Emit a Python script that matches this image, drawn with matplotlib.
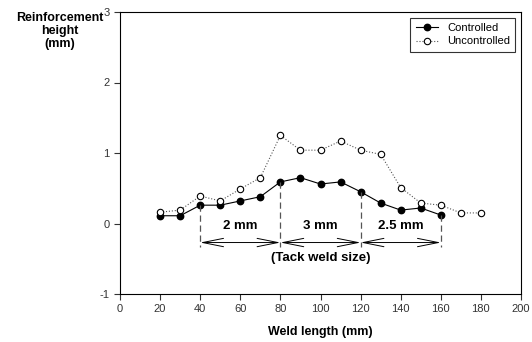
import matplotlib
matplotlib.use('Agg')
import matplotlib.pyplot as plt

plt.rcParams['font.family'] = ['Liberation Sans', 'DejaVu Sans']
plt.rcParams['axes.unicode_minus'] = False

x_ctrl = [20, 30, 40, 50, 60, 70, 80, 90, 100, 110, 120, 130, 140, 150, 160]
y_ctrl = [0.11, 0.11, 0.26, 0.26, 0.32, 0.38, 0.59, 0.65, 0.56, 0.59, 0.45, 0.29, 0.19, 0.22, 0.12]

x_unc = [20, 30, 40, 50, 60, 70, 80, 90, 100, 110, 120, 130, 140, 150, 160, 170, 180]
y_unc = [0.16, 0.19, 0.39, 0.32, 0.49, 0.65, 1.25, 1.04, 1.04, 1.17, 1.04, 0.98, 0.51, 0.29, 0.26, 0.15, 0.15]

tack_x = [40, 80, 120, 160]
tack_labels = ['2 mm', '3 mm', '2.5 mm']

fig = plt.figure(figsize=(5.32, 3.42), dpi=100)
ax = fig.add_axes([120 / 532, 1 - 294 / 342, 401 / 532, 282 / 342])

ax.plot(x_ctrl, y_ctrl, '-', color='black', lw=0.8, marker='o', ms=4.6,
        mfc='black', mec='black', label='Controlled')
ax.plot(x_unc, y_unc, ':', color='#555555', lw=0.8, marker='o', ms=4.6,
        mfc='white', mec='black', mew=0.8, label='Uncontrolled')

# tack weld dimension lines
y_dim = -0.27
for xv, yv in zip(tack_x, [y_ctrl[x_ctrl.index(v)] for v in tack_x]):
    ax.plot([xv, xv], [yv, -0.33], '--', color='#555555', lw=0.9, dashes=(5, 3))
for i, lab in enumerate(tack_labels):
    a, b = tack_x[i], tack_x[i + 1]
    ax.annotate('', xy=(a, y_dim), xytext=(b, y_dim),
                arrowprops=dict(arrowstyle='<->,head_length=1.5,head_width=0.3',
                                color='black', lw=0.7, shrinkA=0, shrinkB=0))
    ax.text((a + b) / 2, -0.03, lab, ha='center', va='center', fontsize=9.5, fontweight='bold')
ax.text(100, -0.49, '(Tack weld size)', ha='center', va='center', fontsize=9.5, fontweight='bold')

ax.set_xlim(0, 200)
ax.set_ylim(-1, 3)
ax.set_xticks(range(0, 201, 20))
ax.set_yticks([-1, 0, 1, 2, 3])
ax.tick_params(direction='out', length=4, width=0.8, labelsize=8, colors='#333333')
for s in ax.spines.values():
    s.set_linewidth(0.8)

ax.set_xlabel('Weld length (mm)', fontsize=9, fontweight='bold', labelpad=8)
fig.text(60 / 532, 1 - 31 / 342, 'Reinforcement\nheight\n(mm)', ha='center', va='center',
         fontsize=9, fontweight='bold', linespacing=1.1)

leg = ax.legend(loc='upper right', fontsize=8, frameon=True, fancybox=False,
                edgecolor='black', handlelength=2.0, borderpad=0.5, labelspacing=0.3)
leg.get_frame().set_linewidth(0.8)

fig.savefig('out.png', dpi=100)
